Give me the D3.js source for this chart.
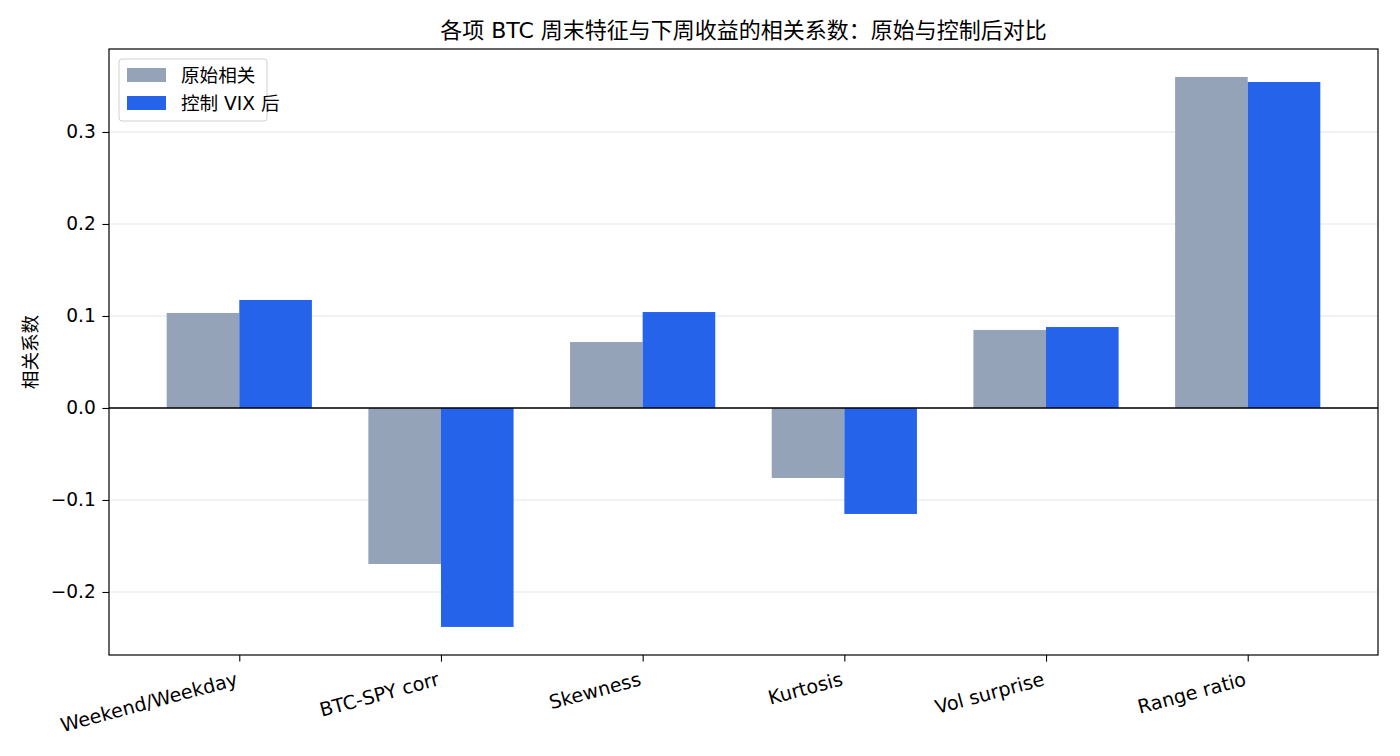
<!DOCTYPE html>
<html><head><meta charset="utf-8">
<script src="https://cdn.jsdelivr.net/npm/d3@7"></script>
<style>
body{margin:0;background:#fff;}
text{font-family:"DejaVu Sans","Noto Sans CJK SC",sans-serif;}
</style></head>
<body><svg id="c" width="1400" height="756"></svg>
<script>
const categories = ["Weekend/Weekday","BTC-SPY corr","Skewness","Kurtosis","Vol surprise","Range ratio"];
const rawValues = [0.1033, -0.1696, 0.0717, -0.0761, 0.0848, 0.3598];
const vixValues = [0.1174, -0.2380, 0.1043, -0.1152, 0.0880, 0.3543];
const seriesNames = ["原始相关", "控制 VIX 后"];
const yTicks = [-0.2, -0.1, 0.0, 0.1, 0.2, 0.3];
const titleText = "各项 BTC 周末特征与下周收益的相关系数：原始与控制后对比";
const yLabel = "相关系数";

const svg = d3.select("#c");
const L = 109, R = 1378, T = 49, B = 655;
const colors = ["#94a3b8", "#2563eb"];
const barW = 0.36;
const fs = 18.6;
const fsx = 19.2;
const x = d3.scaleLinear().domain([-0.646, 5.646]).range([L, R]);
const y = d3.scaleLinear().domain([-0.2685, 0.3902]).range([B, T]);

// grid
svg.append("g").selectAll("line").data(yTicks).join("line")
  .attr("x1", L).attr("x2", R).attr("y1", d => y(d)).attr("y2", d => y(d))
  .attr("stroke", "#e6e6e6").attr("stroke-width", 1.2);

const series = [rawValues, vixValues];
series.forEach((vals, si) => {
  svg.append("g").selectAll("rect").data(vals).join("rect")
    .attr("x", (d, i) => si === 0 ? x(i - barW) : x(i))
    .attr("width", x(barW) - x(0))
    .attr("y", d => y(Math.max(0, d)))
    .attr("height", d => Math.abs(y(d) - y(0)))
    .attr("fill", colors[si]);
});

// zero line
svg.append("line").attr("x1", L).attr("x2", R).attr("y1", y(0)).attr("y2", y(0))
  .attr("stroke", "#000").attr("stroke-width", 1.4);

// axes
const fmt = d => (d < 0 ? "\u2212" : "") + Math.abs(d).toFixed(1);
const yAxis = svg.append("g").attr("transform", `translate(${L},0)`)
  .call(d3.axisLeft(y).tickValues(yTicks).tickFormat(fmt).tickSize(6.6).tickPadding(6.6));
yAxis.select(".domain").remove();
yAxis.selectAll("text").attr("font-size", fs).attr("fill", "#000").style("font-family", "DejaVu Sans");
yAxis.selectAll("line").attr("stroke", "#000").attr("stroke-width", 1.1);

const xAxis = svg.append("g").attr("transform", `translate(0,${B})`)
  .call(d3.axisBottom(x).tickValues(d3.range(categories.length)).tickFormat(i => categories[i]).tickSize(6.6));
xAxis.select(".domain").remove();
xAxis.selectAll("line").attr("stroke", "#000").attr("stroke-width", 1.1);
xAxis.selectAll("text")
  .attr("font-size", fsx).attr("fill", "#000").style("font-family", "DejaVu Sans")
  .attr("text-anchor", "end").attr("dy", null).attr("y", 0)
  .attr("transform", "translate(-1,30) rotate(-15)");

// frame
svg.append("rect").attr("x", L).attr("y", T).attr("width", R - L).attr("height", B - T)
  .attr("fill", "none").attr("stroke", "#000").attr("stroke-width", 1.2);

// title
svg.append("text").attr("x", (L + R) / 2).attr("y", 38).attr("text-anchor", "middle")
  .attr("font-size", 22).text(titleText);

// y label
svg.append("text").attr("transform", `translate(37,${(T + B) / 2}) rotate(-90)`)
  .attr("text-anchor", "middle").attr("font-size", fs).text(yLabel);

// legend
const lg = svg.append("g");
lg.append("rect").attr("x", 119).attr("y", 59).attr("width", 148).attr("height", 62)
  .attr("rx", 3).attr("fill", "#fff").attr("fill-opacity", 0.8).attr("stroke", "#d0d0d0");
seriesNames.forEach((n, i) => {
  lg.append("rect").attr("x", 127).attr("y", 68 + i * 28).attr("width", 39).attr("height", 14).attr("fill", colors[i]);
  lg.append("text").attr("x", 181).attr("y", 82 + i * 28).attr("font-size", fs).text(n);
});
</script></body></html>
